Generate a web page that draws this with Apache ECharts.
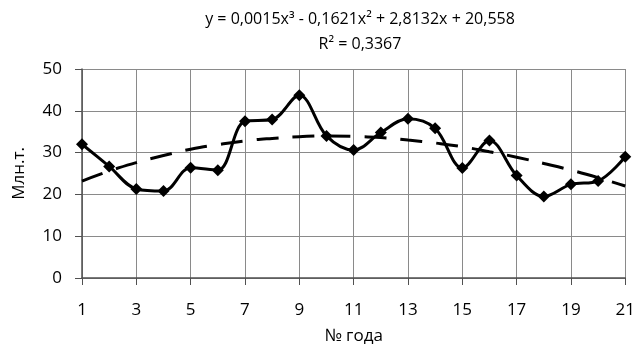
<!DOCTYPE html>
<html>
<head>
<meta charset="utf-8">
<script src="https://cdn.jsdelivr.net/npm/echarts@6/dist/echarts.min.js"></script>
<style>
  html, body { margin: 0; padding: 0; background: #fff; }
  #main { width: 638px; height: 350px; }
</style>
</head>
<body>
<div id="main"></div>
<script>
// годы 1..21
var years = ['1', '2', '3', '4', '5', '6', '7', '8', '9', '10', '11', '12', '13', '14', '15', '16', '17', '18', '19', '20', '21'];
// фактические значения, млн.т.
var values = [32.0, 26.7, 21.3, 20.8, 26.4, 25.8, 37.5, 37.9, 43.7, 34.0, 30.6, 34.8, 38.1, 35.8, 26.3, 32.9, 24.5, 19.5, 22.4, 23.2, 29.0];
// полиномиальный тренд
var trend = [23.2, 25.6, 27.6, 29.3, 30.8, 31.9, 32.8, 33.4, 33.8, 34.0, 33.9, 33.6, 33.0, 32.3, 31.4, 30.2, 28.9, 27.4, 25.8, 24.0, 22.0];
var titleLine1 = 'y = 0,0015x\u00b3 - 0,1621x\u00b2 + 2,8132x + 20,558';
var titleLine2 = 'R\u00b2 = 0,3367';

var font = 'Open Sans';
var chart = echarts.init(document.getElementById('main'));

var option = {
  animation: false,
  title: [{
    text: titleLine1,
    left: 355,
    top: 6,
    textAlign: 'center',
    textStyle: { fontFamily: font, fontSize: 16, fontWeight: 'normal', color: '#000' }
  }, {
    text: titleLine2,
    left: 355,
    top: 31,
    textAlign: 'center',
    textStyle: { fontFamily: font, fontSize: 16, fontWeight: 'normal', color: '#000' }
  }],
  grid: {
    left: 82,
    right: 11,
    top: 69,
    bottom: 70
  },
  xAxis: {
    type: 'category',
    data: years,
    boundaryGap: false,
    name: '№ года',
    nameLocation: 'middle',
    nameGap: 50,
    nameTextStyle: { fontFamily: font, fontSize: 17, color: '#000' },
    axisLine: { lineStyle: { color: '#505050', width: 1.5 } },
    axisTick: { interval: 1, length: 7, lineStyle: { color: '#505050' } },
    axisLabel: { interval: 1, margin: 24, fontFamily: font, fontSize: 17, color: '#000' },
    splitLine: { show: true, interval: 1, lineStyle: { color: '#8a8a8a', width: 1 } }
  },
  yAxis: {
    type: 'value',
    min: 0,
    max: 50,
    interval: 10,
    name: 'Млн.т.',
    nameLocation: 'middle',
    nameGap: 54,
    nameTextStyle: { fontFamily: font, fontSize: 17, color: '#000' },
    axisLine: { show: true, lineStyle: { color: '#505050', width: 1.5 } },
    axisTick: { show: true, length: 7, lineStyle: { color: '#505050' } },
    axisLabel: { margin: 20, fontFamily: font, fontSize: 17, color: '#000' },
    splitLine: { show: true, lineStyle: { color: '#8a8a8a', width: 1 } }
  },
  series: [{
    name: 'trend',
    type: 'line',
    data: trend,
    smooth: true,
    symbol: 'none',
    lineStyle: { color: '#000', width: 3, type: [22, 14] },
    z: 2
  }, {
    name: 'values',
    type: 'line',
    data: values,
    smooth: 0.35,
    symbol: 'diamond',
    symbolSize: 12,
    itemStyle: { color: '#000' },
    lineStyle: { color: '#000', width: 3 },
    z: 3
  }]
};

chart.setOption(option);
</script>
</body>
</html>
